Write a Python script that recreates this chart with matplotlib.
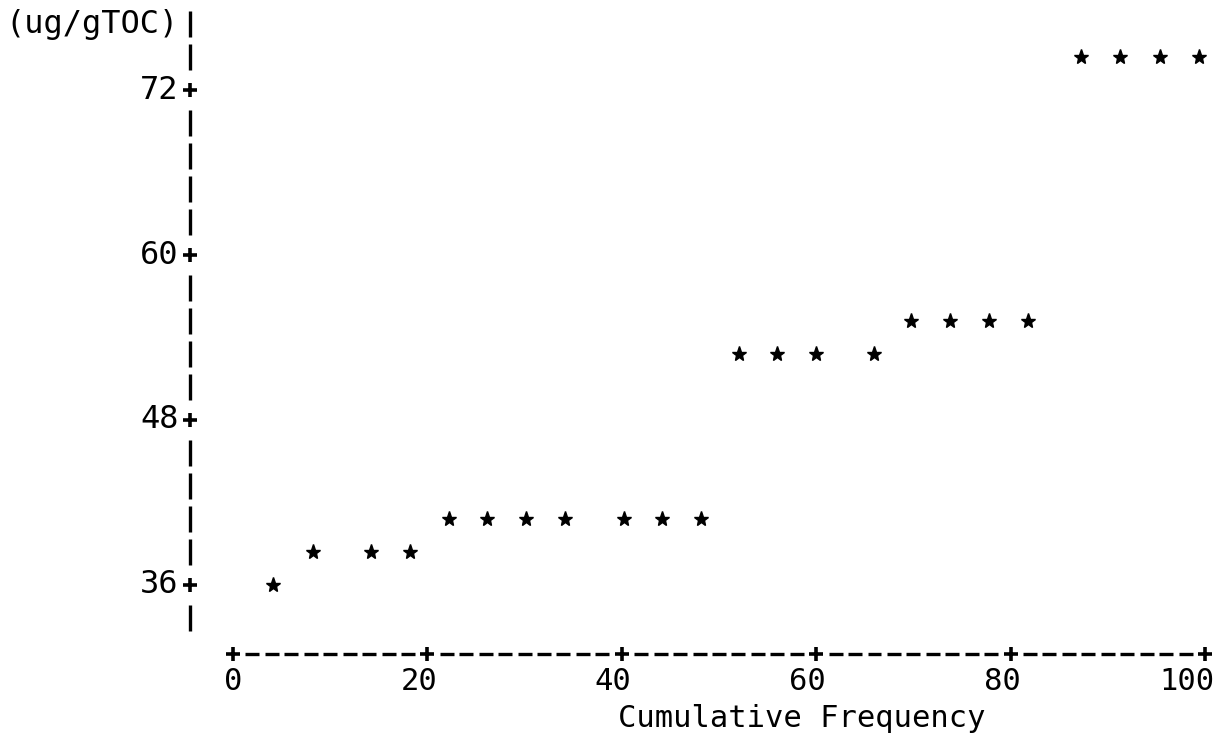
import numpy as np
import matplotlib.pyplot as plt

# cumulative frequency (%) and concentration (ug/gTOC)
cum_freq = [4.1, 8.2, 14.2, 18.2, 22.2, 26.1, 30.1, 34.2, 40.2, 44.1, 48.1, 52.1,
            56.0, 60.0, 65.9, 69.8, 73.8, 77.8, 81.8, 87.2, 91.3, 95.4, 99.4]
conc = [36.0, 38.4, 38.4, 38.4, 40.8, 40.8, 40.8, 40.8, 40.8, 40.8, 40.8, 52.8,
        52.8, 52.8, 52.8, 55.2, 55.2, 55.2, 55.2, 74.4, 74.4, 74.4, 74.4]

y_ticks = [36, 48, 60, 72]
x_ticks = [0, 20, 40, 60, 80, 100]
y_unit_label = "(ug/gTOC)"
x_title = "Cumulative Frequency"

font = dict(family="DejaVu Sans Mono", fontsize=23, color="black")
ink = "black"

fig = plt.figure(figsize=(12.18, 7.34), dpi=100)
ax = fig.add_axes([0, 0, 1, 1])
ax.set_xlim(-23.97, 101.34)
ax.set_ylim(25.16, 78.55)
ax.axis("off")

# printer-style vertical axis: one '|' per line, '+' at labelled rows
row = 2.4
axis_x = -4.4
rows = np.arange(33.6, 76.9, row)
for r in rows:
    if any(np.isclose(r, t) for t in y_ticks):
        ax.plot(axis_x, r, marker="+", ms=10, mew=2.6, color=ink)
    else:
        ax.vlines(axis_x, r - 0.92, r + 0.92, color=ink, lw=2.4)

for t in y_ticks:
    ax.text(axis_x - 1.2, t, f"{t}", ha="right", va="center", **font)
ax.text(axis_x - 1.2, 76.8, y_unit_label, ha="right", va="center", **font)

# horizontal axis: '-' every character column, '+' at every 20
axis_y = 31.0
cols = np.arange(0, 101, 2)
for c in cols:
    if c % 20 == 0:
        ax.plot(c, axis_y, marker="+", ms=10, mew=2.6, color=ink)
    else:
        ax.hlines(axis_y, c - 0.72, c + 0.72, color=ink, lw=2.4)

tick_font = dict(font, fontsize=22)
for t in x_ticks:
    ax.text(t + 1.0, 29.0, f"{t}", ha="right", va="center", **tick_font)
ax.text(39.6, 25.2, x_title, ha="left", va="bottom", **tick_font)

# data points
ax.plot(cum_freq, conc, linestyle="none", marker="*", ms=11, color=ink)

fig.savefig("out.png", dpi=100)
